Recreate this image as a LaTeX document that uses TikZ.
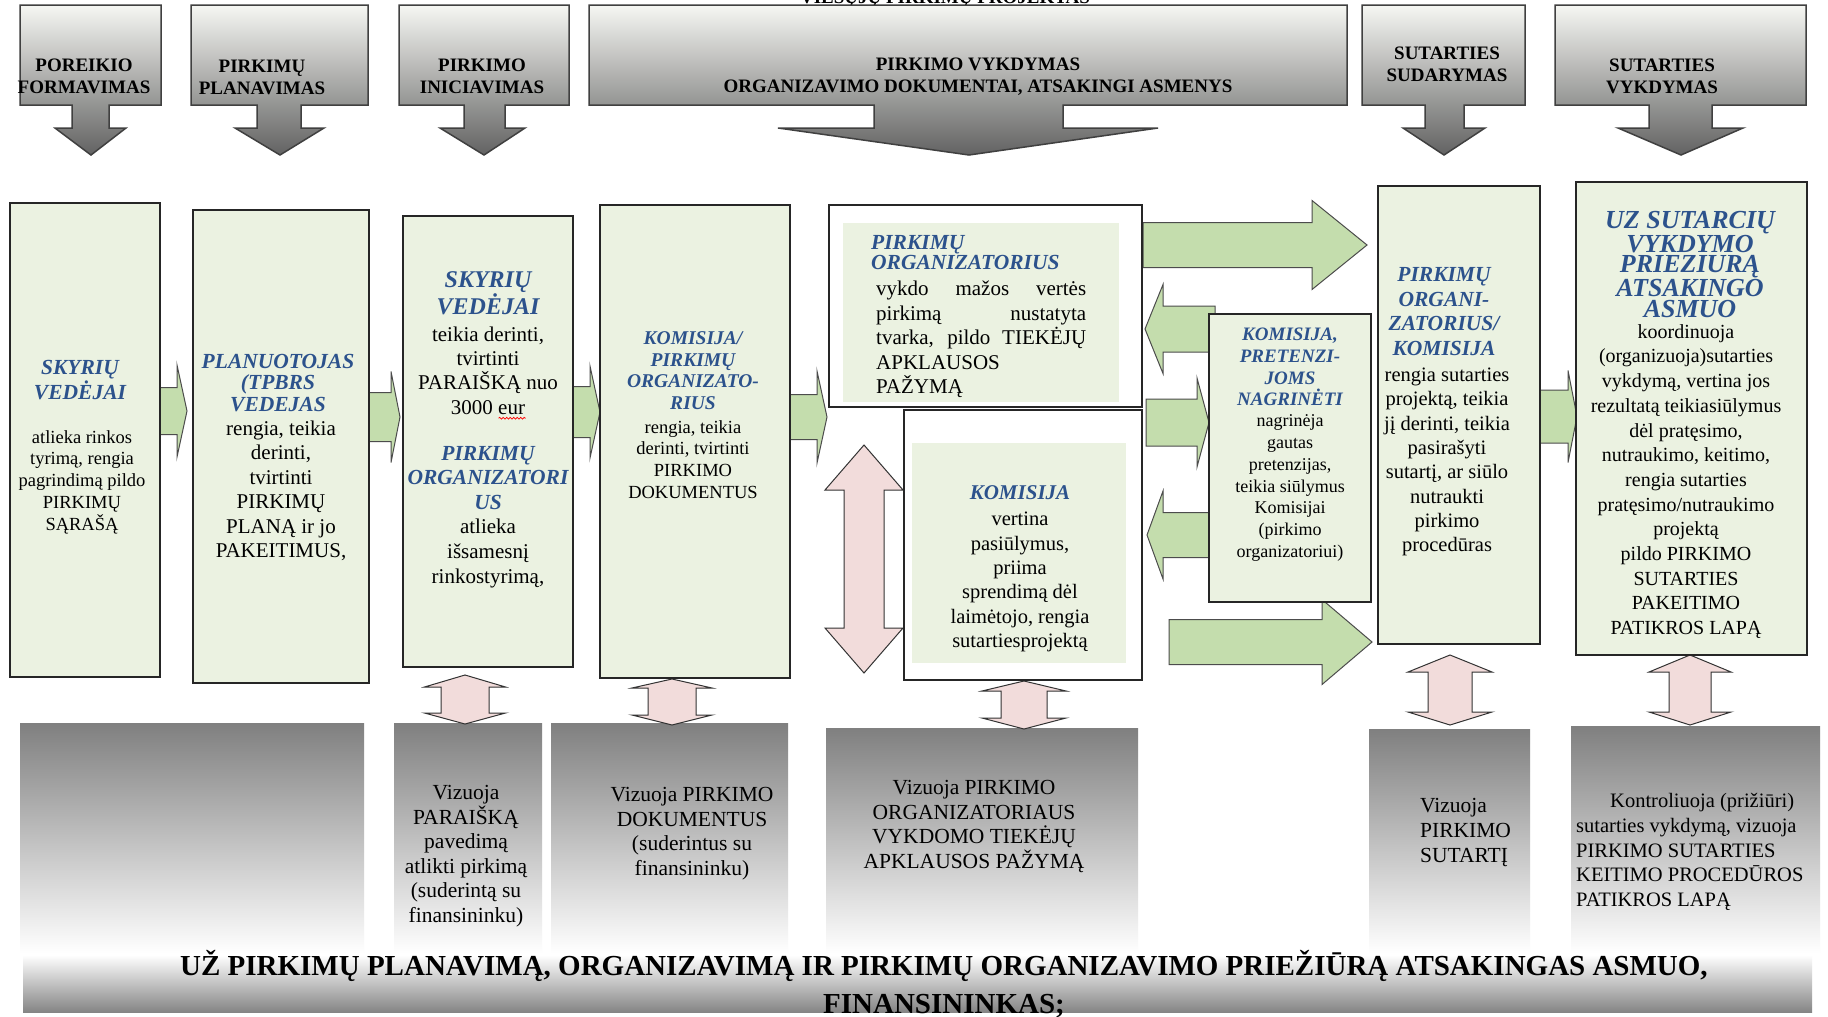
\documentclass[tikz,border=0pt]{standalone}
\usepackage{fontspec}
\setmainfont{Liberation Serif}
\usetikzlibrary{decorations.pathmorphing}

\definecolor{boxgreen}{RGB}{235,242,225}
\definecolor{arrowgreen}{RGB}{196,221,173}
\definecolor{arrowpink}{RGB}{242,220,219}
\definecolor{roleblue}{RGB}{44,82,140}
\definecolor{hdtop}{RGB}{246,247,243}
\definecolor{hdmid}{RGB}{196,197,193}
\definecolor{hdbot}{RGB}{98,98,98}

\tikzset{
  hdshape/.style={draw=black!75, line width=1.5pt, top color=hdtop, middle color=hdmid, bottom color=hdbot},
  hdtext/.style={font=\bfseries\fontsize{19}{22}\selectfont, align=center, inner sep=0pt},
  colbox/.style={draw=black!85, line width=1.3pt, fill=boxgreen},
  whitebox/.style={draw=black!85, line width=1.3pt, fill=white},
  innerbox/.style={fill=boxgreen, inner sep=0pt},
  grarrow/.style={draw=black!70, line width=1pt, fill=arrowgreen},
  pkarrow/.style={draw=black!80, line width=1pt, fill=arrowpink},
  greyfade/.style={top color=black!50, bottom color=white},
  role/.style 2 args={text=roleblue, font=\bfseries\itshape\fontsize{#1}{#2}\selectfont, align=center, inner sep=0pt},
  duty/.style 2 args={font=\fontsize{#1}{#2}\selectfont, align=center, inner sep=0pt}
}

\begin{document}
\begin{tikzpicture}[x=1pt, y=-1pt]
\useasboundingbox (0,0) rectangle (1828,1017);
\fill[white] (0,0) rectangle (1828,1017);

\def\callout#1#2#3#4#5#6#7{\draw[hdshape] (#1,5) -- (#2,5) -- (#2,105) -- (#4,105) -- (#4,128) -- (#6,128) -- (#7,155) -- (#5,128) -- (#3,128) -- (#3,105) -- (#1,105) -- cycle;}
\def\greenarrow#1#2#3#4#5#6{\draw[grarrow] (#1,#4-#5) -- (#2,#4-#5) -- (#2,#4-#6) -- (#3,#4) -- (#2,#4+#6) -- (#2,#4+#5) -- (#1,#4+#5) -- cycle;}
\def\pinkarrow#1#2#3#4#5#6#7{\draw[pkarrow] (#1,#4) -- (#1+#3,#5) -- (#1+#2,#5) -- (#1+#2,#6) -- (#1+#3,#6) -- (#1,#7) -- (#1-#3,#6) -- (#1-#2,#6) -- (#1-#2,#5) -- (#1-#3,#5) -- cycle;}

% grey bands at the bottom
\fill[greyfade] (20,723) rectangle (364,953);
\fill[greyfade] (394,723) rectangle (542,953);
\fill[greyfade] (551,723) rectangle (788,953);
\fill[greyfade] (826,728) rectangle (1138,953);
\fill[greyfade] (1369,729) rectangle (1530,953);
\fill[greyfade] (1571,726) rectangle (1820,953);
\fill[top color=white, bottom color=black!48] (23,955) rectangle (1812,1012);

% stage headers
\node[hdtext, anchor=base] (t0) at (945,4) {VIEŠŲJŲ PIRKIMŲ PROJEKTAS};
\callout{20}{161}{72}{109}{55}{126}{91}
\callout{191}{368}{257}{301}{235}{324}{280}
\callout{399}{569}{464}{505}{440}{525}{484}
\callout{589}{1347}{874}{1063}{778}{1158}{969}
\callout{1362}{1525}{1425}{1464}{1403}{1485}{1444}
\callout{1555}{1806}{1649}{1712}{1618}{1743}{1681}
\node[hdtext] (t1) at (84,76) {POREIKIO\\FORMAVIMAS};
\node[hdtext] (t2) at (262,77) {PIRKIMŲ\\PLANAVIMAS};
\node[hdtext] (t3) at (482,76) {PIRKIMO\\INICIAVIMAS};
\node[hdtext] (t4) at (978,77) {PIRKIMO VYKDYMAS\\ORGANIZAVIMO DOKUMENTAI, ATSAKINGI ASMENYS};
\node[hdtext] (t5) at (1447,64) {SUTARTIES\\SUDARYMAS};
\node[hdtext] (t6) at (1662,76) {SUTARTIES\\VYKDYMAS};

% green arrows between the steps
\greenarrow{160}{177}{187}{411}{23.5}{46}
\greenarrow{369}{391}{400}{417}{24.5}{45.5}
\greenarrow{573}{590}{600}{412}{25.5}{46}
\greenarrow{790}{817}{827}{417}{22.5}{46}
\greenarrow{1143}{1312}{1367}{245}{22.5}{44.5}
\greenarrow{1215}{1163}{1145}{329}{23}{44.5}
\greenarrow{1146}{1197}{1209}{422.5}{23.5}{44.5}
\greenarrow{1209}{1163}{1147}{535}{22.5}{44}
\greenarrow{1169}{1322}{1372}{642}{22.5}{42.5}
\greenarrow{1540}{1568}{1577}{416.5}{26.5}{46}

% pink two-way arrows
\pinkarrow{864}{20}{39}{445}{490}{628}{673}
\pinkarrow{465}{24}{40.5}{675}{687}{713}{724}
\pinkarrow{672}{24}{40}{679}{688}{715}{725}
\pinkarrow{1024}{23}{42}{681}{691}{718}{729}
\pinkarrow{1450}{22}{42}{655}{672}{712}{725}
\pinkarrow{1690}{21}{41}{655}{672}{712}{725}

% boxes
\node[colbox, minimum width=150pt, minimum height=474pt] (c1) at (85,440) {};
\node[colbox, minimum width=176pt, minimum height=473pt] (c2) at (281,446.5) {};
\node[colbox, minimum width=170pt, minimum height=451pt] (c3) at (488,441.5) {};
\node[colbox, minimum width=190pt, minimum height=473pt] (c4) at (695,441.5) {};
\node[whitebox, minimum width=313pt, minimum height=202pt] (d1) at (985.5,306) {};
\node[innerbox, minimum width=276pt, minimum height=179pt] (d1in) at (981,312.5) {};
\node[whitebox, minimum width=238pt, minimum height=270pt] (d2) at (1023,545) {};
\node[innerbox, minimum width=214pt, minimum height=220pt] (d2in) at (1019,553) {};
\node[colbox, minimum width=162pt, minimum height=288pt] (e) at (1290,458) {};
\node[colbox, minimum width=162pt, minimum height=458pt] (f) at (1459,415) {};
\node[colbox, minimum width=231pt, minimum height=473pt] (g) at (1691.5,418.5) {};

% texts in the boxes
\node[role={21.5}{25}] (c1r) at (80,380) {SKYRIŲ\\VEDĖJAI};
\node[duty={18.5}{21.7}] (c1d) at (82,482) {atlieka rinkos\\tyrimą, rengia\\pagrindimą pildo\\PIRKIMŲ\\SĄRAŠĄ};
\node[role={21.5}{21.7}] (c2r) at (278,383) {PLANUOTOJAS\\(TPBRS\\VEDEJAS};
\node[duty={21}{24.5}] (c2d) at (281,491) {rengia, teikia\\derinti,\\tvirtinti\\PIRKIMŲ\\PLANĄ ir jo\\PAKEITIMUS,};
\node[role={24}{26.7}] (c3r) at (488,293) {SKYRIŲ\\VEDĖJAI};
\node[duty={21}{24.4}] (c3d) at (488,373) {teikia derinti,\\tvirtinti\\PARAIŠKĄ nuo\\3000 \rlap{\tikz[baseline=0pt]\draw[red, line width=0.8pt, decorate, decoration={snake, amplitude=0.9pt, segment length=3.5pt}] (0pt,-4pt) -- (27pt,-4pt);}eur};
\node[role={21.5}{24.5}] (c3r2) at (488,478) {PIRKIMŲ\\ORGANIZATORI\\US};
\node[duty={21}{25}] (c3d2) at (488,553) {atlieka\\išsamesnį\\rinkostyrimą,};
\node[role={19.5}{21.7}] (c4r) at (693,370.5) {KOMISIJA/\\PIRKIMŲ\\ORGANIZATO-\\RIUS};
\node[duty={18.5}{21.7}] (c4d) at (693,459.5) {rengia, teikia\\derinti, tvirtinti\\PIRKIMO\\DOKUMENTUS};
\node[role={21.5}{18.5}, align=left, anchor=west] (d1r) at (871,252.5) {PIRKIMŲ\\ORGANIZATORIUS};
\node[duty={21}{24.5}, align=left, anchor=west] (d1d) at (876,339.5) {\makebox[210pt][s]{vykdo mažos vertės}\\\makebox[210pt][s]{pirkimą nustatyta}\\\makebox[210pt][s]{tvarka, pildo TIEKĖJŲ}\\APKLAUSOS\\PAŽYMĄ};
\node[role={21}{24}] (d2r) at (1020,493) {KOMISIJA};
\node[duty={20.5}{24.4}] (d2d) at (1020,582) {vertina\\pasiūlymus,\\priima\\sprendimą dėl\\laimėtojo, rengia\\sutartiesprojektą};
\node[role={19}{21.7}] (er) at (1290,367) {KOMISIJA,\\PRETENZI-\\JOMS\\NAGRINĖTI};
\node[duty={18}{21.7}] (ed) at (1290,488) {nagrinėja\\gautas\\pretenzijas,\\teikia siūlymus\\Komisijai\\(pirkimo\\organizatoriui)};
\node[role={21.5}{24.4}] (fr) at (1444,311.5) {PIRKIMŲ\\ORGANI-\\ZATORIUS/\\KOMISIJA};
\node[duty={20.5}{24.3}] (fd) at (1447,462) {rengia sutarties\\projektą, teikia\\jį derinti, teikia\\pasirašyti\\sutartį, ar siūlo\\nutraukti\\pirkimo\\procedūras};
\node[role={26}{20.5}] (gr) at (1690,264.5) {UZ SUTARCIŲ\\VYKDYMO\\PRIEZIURĄ\\ATSAKINGO\\ASMUO};
\node[duty={20}{24.7}] (gd) at (1686,481.5) {koordinuoja\\(organizuoja)sutarties\\vykdymą, vertina jos\\rezultatą teikiasiūlymus\\dėl pratęsimo,\\nutraukimo, keitimo,\\rengia sutarties\\pratęsimo/nutraukimo\\projektą\\pildo PIRKIMO\\SUTARTIES\\PAKEITIMO\\PATIKROS LAPĄ};

% texts in the grey bands
\node[duty={21.5}{24.5}] (r2) at (466,856) {Vizuoja\\PARAIŠKĄ\\pavedimą\\atlikti pirkimą\\(suderintą su\\finansininku)};
\node[duty={21.5}{24.5}] (r3) at (692,833.5) {Vizuoja PIRKIMO\\DOKUMENTUS\\(suderintus su\\finansininku)};
\node[duty={21.5}{24.5}] (r4) at (974,826.5) {Vizuoja PIRKIMO\\ORGANIZATORIAUS\\VYKDOMO TIEKĖJŲ\\APKLAUSOS PAŽYMĄ};
\node[duty={21.5}{25}, align=left, anchor=west] (r5) at (1420,832) {Vizuoja\\PIRKIMO\\SUTARTĮ};
\node[duty={20.5}{24.7}, align=left, anchor=west] (r6) at (1576,852) {\hspace*{34pt}Kontroliuoja (prižiūri)\\sutarties vykdymą, vizuoja\\PIRKIMO SUTARTIES\\KEITIMO PROCEDŪROS\\PATIKROS LAPĄ};
\node[font=\bfseries\fontsize{29}{38}\selectfont, align=center, inner sep=0pt] (fin) at (944,984) {UŽ PIRKIMŲ PLANAVIMĄ, ORGANIZAVIMĄ IR PIRKIMŲ ORGANIZAVIMO PRIEŽIŪRĄ ATSAKINGAS ASMUO,\\FINANSININKAS;};
\end{tikzpicture}
\end{document}
